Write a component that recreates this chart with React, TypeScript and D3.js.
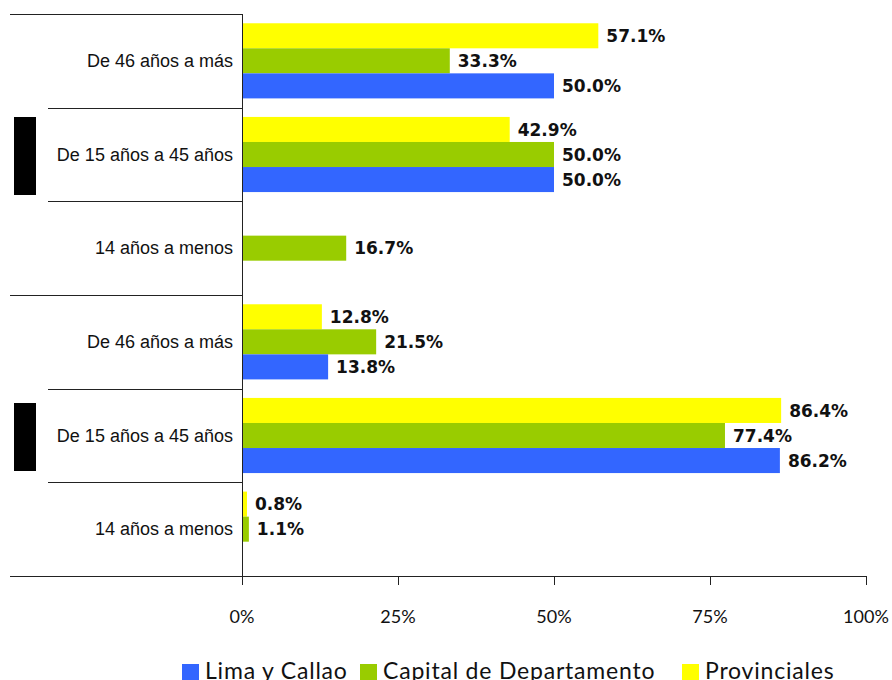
import React from "react";
import * as d3 from "d3";

const categories = [
  "g1|De 46 años a más",
  "g1|De 15 años a 45 años",
  "g1|14 años a menos",
  "g2|De 46 años a más",
  "g2|De 15 años a 45 años",
  "g2|14 años a menos",
];
const seriesNames = ["Provinciales", "Capital de Departamento", "Lima y Callao"];
const provinciales: (number | null)[] = [57.1, 42.9, null, 12.8, 86.4, 0.8];
const capital: (number | null)[] = [33.3, 50.0, 16.7, 21.5, 77.4, 1.1];
const lima: (number | null)[] = [50.0, 50.0, null, 13.8, 86.2, null];
const xTicks = [0, 25, 50, 75, 100];
const legendOrder = ["Lima y Callao", "Capital de Departamento", "Provinciales"];

const colors: Record<string, string> = {
  "Lima y Callao": "#3366FF",
  "Capital de Departamento": "#99CC00",
  Provinciales: "#FFFF00",
};

export default function App() {
  const W = 892, H = 680;
  const x0 = 242, x1 = 866, yTop = 14, yBot = 576;
  const x = d3.scaleLinear().domain([0, 100]).range([x0, x1]);
  const y = d3.scaleBand<string>().domain(categories).range([yTop, yBot]).padding(0);
  const inner = d3
    .scaleBand<string>()
    .domain(seriesNames)
    .range([0, y.bandwidth()])
    .paddingInner(0)
    .paddingOuter(0.37);
  const seriesData: Record<string, (number | null)[]> = {
    Provinciales: provinciales,
    "Capital de Departamento": capital,
    "Lima y Callao": lima,
  };
  const legendX: Record<string, number> = {
    "Lima y Callao": 182,
    "Capital de Departamento": 360,
    Provinciales: 682,
  };

  const boundaries = d3.range(categories.length + 1).map((i) => yTop + i * y.step());

  return (
    <svg
      width={W}
      height={H}
      style={{ position: "absolute", left: 0, top: 0, background: "#fff" }}
    >
      {/* group label blocks */}
      <rect x={14} y={117} width={22} height={78} fill="#000" />
      <rect x={14} y={403} width={22} height={68} fill="#000" />

      {/* bars */}
      {categories.map((c, ci) =>
        seriesNames.map((s) => {
          const v = seriesData[s][ci];
          if (v == null) return null;
          const by = (y(c) as number) + (inner(s) as number);
          const bh = inner.bandwidth();
          return (
            <g key={c + s}>
              <rect x={x(0)} y={by} width={x(v) - x(0)} height={bh} fill={colors[s]} />
              <text
                x={x(v) + 8}
                y={by + bh / 2}
                dy="0.36em"
                fontFamily="'DejaVu Sans', sans-serif"
                fontWeight="bold"
                fontSize={17}
                fill="#111"
              >
                {v.toFixed(1)}%
              </text>
            </g>
          );
        })
      )}

      {/* category separators */}
      {boundaries.map((b, i) => {
        const outer = i % 3 === 0;
        return (
          <line
            key={i}
            x1={outer ? 10 : 48}
            x2={x0}
            y1={Math.round(b) + 0.5}
            y2={Math.round(b) + 0.5}
            stroke="#222"
            strokeWidth={1}
          />
        );
      })}

      {/* category labels */}
      {categories.map((c) => (
        <text
          key={c}
          x={233}
          y={(y(c) as number) + y.bandwidth() / 2}
          dy="0.35em"
          textAnchor="end"
          fontFamily="'Liberation Sans', Arial, sans-serif"
          fontSize={18}
          fill="#111"
        >
          {c.split("|")[1]}
        </text>
      ))}

      {/* axes */}
      <line x1={x0 + 0.5} x2={x0 + 0.5} y1={yTop} y2={yBot + 9} stroke="#222" />
      <line x1={10} x2={x1} y1={yBot + 0.5} y2={yBot + 0.5} stroke="#222" />
      {xTicks.map((t) => (
        <g key={t}>
          <line
            x1={Math.round(x(t)) + 0.5}
            x2={Math.round(x(t)) + 0.5}
            y1={yBot}
            y2={yBot + 9}
            stroke="#222"
          />
          <text
            x={x(t)}
            y={617}
            dy="0.35em"
            textAnchor="middle"
            fontFamily="Lato, sans-serif"
            fontSize={18}
            fill="#111"
          >
            {t}%
          </text>
        </g>
      ))}

      {/* legend */}
      {legendOrder.map((s) => (
        <g key={s}>
          <rect x={legendX[s]} y={664} width={17} height={16} fill={colors[s]} />
          <text
            x={legendX[s] + 23}
            y={679}
            fontFamily="Lato, sans-serif"
            fontSize={23}
            letterSpacing={0.8}
            fill="#111"
          >
            {s}
          </text>
        </g>
      ))}
    </svg>
  );
}
